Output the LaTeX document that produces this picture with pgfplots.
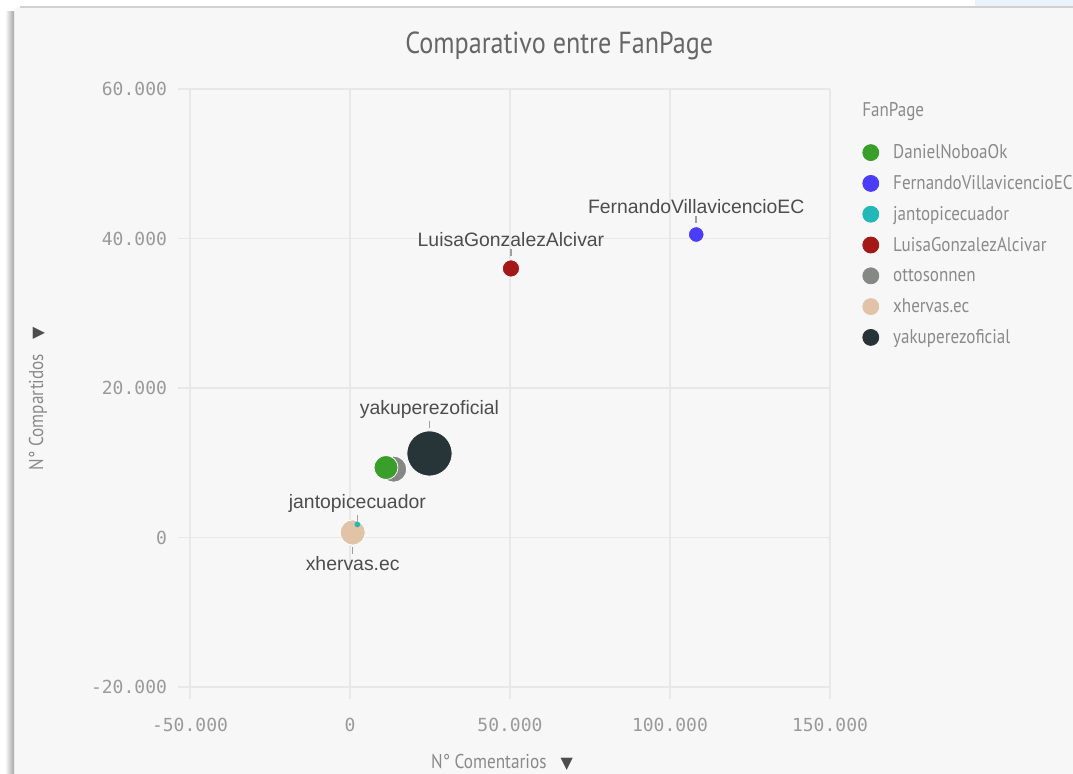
\documentclass[border=0pt]{standalone}
\usepackage{fontspec}
\setmainfont{Liberation Sans}
\newfontfamily\dosis[FakeStretch=0.86]{PT Sans}
\newfontfamily\monof{DejaVu Sans Mono}
\newfontfamily\symf{DejaVu Sans}
\usepackage{pgfplots}
\pgfplotsset{compat=1.18}

\definecolor{cGreen}{HTML}{3A9E2A}
\definecolor{cBlue}{HTML}{4B3CFA}
\definecolor{cCyan}{HTML}{22B8B8}
\definecolor{cRed}{HTML}{A51818}
\definecolor{cGray}{HTML}{868886}
\definecolor{cBeige}{HTML}{E1C4A7}
\definecolor{cDark}{HTML}{283538}
\definecolor{titletxt}{HTML}{666666}
\definecolor{legtxt}{HTML}{8A8A8A}
\definecolor{labtxt}{HTML}{4D4D4D}
\definecolor{ticktxt}{HTML}{9A9A9A}
\definecolor{gridc}{HTML}{E8E8E8}
\definecolor{bg}{HTML}{F7F7F7}
\definecolor{topblue}{RGB}{234,243,251}

\tikzset{pinlab/.style={pin distance=3.5pt, pin edge={draw=gray!75, line width=0.8pt},
    inner sep=1pt, font=\fontsize{9.7}{11}\selectfont, text=labtxt}}
\pgfplotsset{
  bubble/.style={only marks, mark=*, forget plot, color=#1,
    mark options={fill=#1, draw=white, line width=0.4pt}},
  bublab/.style n args={3}{nodes near coords={\relax},
    every node near coord/.append style={anchor=center, inner sep=0pt,
      minimum size=#1, pin={[pinlab]#2:#3}}},
}
\newcommand\legdot[1]{\addlegendimage{legend image code/.code={\fill[#1] (4pt,0pt) circle (4pt);}}}

\begin{document}
\begin{tikzpicture}
\path[use as bounding box] (0,0) rectangle (536.5pt,387pt);
\begin{scope}
\clip (0,0) rectangle (536.5pt,387pt);
\fill[white] (0,0) rectangle (536.5pt,387pt);
\fill[bg, rounded corners=3pt] (7pt,-5pt) rectangle (545pt,383.5pt);
\fill[topblue] (487.5pt,384pt) rectangle (536.5pt,387pt);
\draw[black!18, line width=0.6pt] (10pt,383.5pt) -- (536.5pt,383.5pt);
\shade[left color=white, right color=black!35] (2.5pt,-5pt) rectangle (7pt,381pt);
\end{scope}
\begin{axis}[
  scale only axis, width=320pt, height=299pt,
  at={(95pt,43.5pt)}, anchor=south west,
  xmin=-50000, xmax=150000, ymin=-20000, ymax=60000,
  xtick={-50000,0,50000,100000,150000},
  ytick={-20000,0,20000,40000,60000},
  scaled ticks=false,
  /pgf/number format/fixed,
  /pgf/number format/1000 sep={.},
  /pgf/number format/assume math mode=true,
  axis line style={draw=none},
  grid=major, major grid style={gridc, line width=0.6pt},
  tick style={gridc, line width=0.6pt}, major tick length=6pt, tick align=outside,
  tick pos=left,
  ticklabel style={font=\monof\fontsize{9}{10}\selectfont, text=ticktxt},
  xticklabel style={yshift=-6pt},
  yticklabel style={xshift=-2pt},
  clip=false,
  title={Comparativo entre FanPage},
  title style={at={(axis description cs:0.577,1.040)}, anchor=base,
    font=\dosis\fontsize{15.2}{17}\selectfont, text=titletxt, inner sep=0pt},
  xlabel={N° Comentarios\hspace{7pt}{\symf\fontsize{8}{8}\selectfont\color{labtxt}▼}},
  xlabel style={at={(axis description cs:0.4875,-0.112)}, anchor=north, inner sep=0pt,
    font=\dosis\fontsize{10}{12}\selectfont, text=legtxt},
  ylabel={N° Compartidos\hspace{7pt}{\symf\fontsize{8}{8}\selectfont\color{labtxt}▼}},
  ylabel style={at={(axis description cs:-0.2375,0.482)}, anchor=center, inner sep=0pt,
    font=\dosis\fontsize{10}{12}\selectfont, text=legtxt},
  legend style={at={(axis description cs:1.05,0.911)}, anchor=north west,
    draw=none, fill=none, inner sep=0pt, row sep=5.4pt,
    font=\dosis\fontsize{9.9}{11}\selectfont, text=legtxt,
    nodes={inner sep=1pt, text height=7pt, text depth=1pt},
    /tikz/every odd column/.append style={column sep=6pt}},
  legend cell align=left,
]
\legdot{cGreen}\addlegendentry{DanielNoboaOk}
\legdot{cBlue}\addlegendentry{FernandoVillavicencioEC}
\legdot{cCyan}\addlegendentry{jantopicecuador}
\legdot{cRed}\addlegendentry{LuisaGonzalezAlcivar}
\legdot{cGray}\addlegendentry{ottosonnen}
\legdot{cBeige}\addlegendentry{xhervas.ec}
\legdot{cDark}\addlegendentry{yakuperezoficial}

% ottosonnen
\addplot[bubble=cGray, mark size=6.5pt] coordinates {(13650,9140)};
% DanielNoboaOk
\addplot[bubble=cGreen, mark size=6pt] coordinates {(11250,9360)};
% FernandoVillavicencioEC
\addplot[bubble=cBlue, mark size=3.9pt,
  bublab={11.2pt}{90}{FernandoVillavicencioEC}] coordinates {(108200,40530)};
% LuisaGonzalezAlcivar
\addplot[bubble=cRed, mark size=4.3pt,
  bublab={11.6pt}{90}{LuisaGonzalezAlcivar}] coordinates {(50300,35990)};
% xhervas.ec
\addplot[bubble=cBeige, mark size=6.3pt,
  bublab={14.6pt}{270}{xhervas.ec}] coordinates {(840,670)};
% jantopicecuador
\addplot[only marks, mark=*, forget plot, color=cCyan, mark size=1.2pt,
  mark options={fill=cCyan, draw=cCyan},
  bublab={2.4pt}{90}{jantopicecuador}] coordinates {(2300,1740)};
% yakuperezoficial
\addplot[bubble=cDark, mark size=11.3pt,
  bublab={25.5pt}{90}{yakuperezoficial}] coordinates {(24840,11240)};

\node[anchor=west, inner sep=0pt, font=\dosis\fontsize{9.9}{11}\selectfont, text=legtxt]
  at (axis description cs:1.05,0.9615) {FanPage};
\end{axis}
\end{tikzpicture}
\end{document}
